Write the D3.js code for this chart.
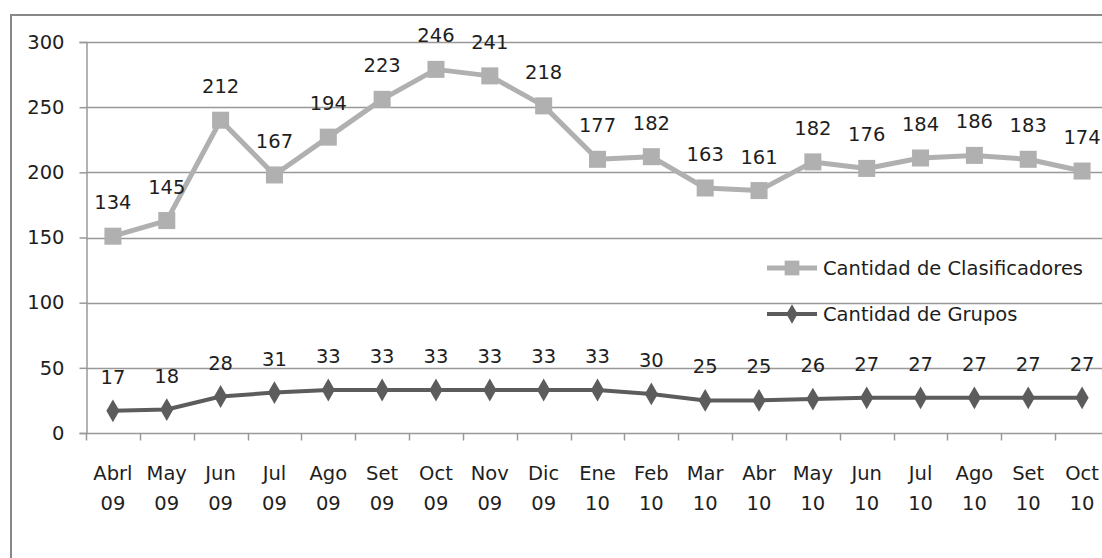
<!DOCTYPE html>
<html>
<head>
<meta charset="utf-8">
<script src="https://cdn.jsdelivr.net/npm/d3@7"></script>
<style>
  body { margin: 0; background: #fff; }
  text { font-family: "DejaVu Sans", sans-serif; fill: #1e1e1e; }
</style>
</head>
<body>
<svg id="chart" width="1102" height="558"></svg>
<script>
// months shown on the x axis (two lines each)
var months = ['Abrl', 'May', 'Jun', 'Jul', 'Ago', 'Set', 'Oct', 'Nov', 'Dic', 'Ene',
              'Feb', 'Mar', 'Abr', 'May', 'Jun', 'Jul', 'Ago', 'Set', 'Oct'];
var years = ['09', '09', '09', '09', '09', '09', '09', '09', '09', '10',
             '10', '10', '10', '10', '10', '10', '10', '10', '10'];

var grupos = [17, 18, 28, 31, 33, 33, 33, 33, 33, 33, 30, 25, 25, 26, 27, 27, 27, 27, 27];
var clasificadores = [134, 145, 212, 167, 194, 223, 246, 241, 218, 177, 182, 163, 161, 182, 176, 184, 186, 183, 174];

var yTicks = [0, 50, 100, 150, 200, 250, 300];

var fontSize = 19.5;

var svg = d3.select('#chart');

var margin = {left: 86, top: 42},
    plotW = 1109 - margin.left,
    plotH = 433 - margin.top;

// stacked line chart: clasificadores sits on top of grupos
var rows = months.map(function(m, i) {
    return {i: i, grupos: grupos[i], clasificadores: clasificadores[i]};
});
var stack = d3.stack().keys(['grupos', 'clasificadores']);
var layers = stack(rows);

var x = d3.scaleBand()
    .domain(d3.range(months.length))
    .range([margin.left, margin.left + plotW]);

var y = d3.scaleLinear()
    .domain([0, 300])
    .range([margin.top + plotH, margin.top]);

// outer chart border
svg.append('rect')
    .attr('x', 11).attr('y', 15)
    .attr('width', 1120).attr('height', 580)
    .attr('fill', 'none')
    .attr('stroke', '#888')
    .attr('stroke-width', 2);

// gridlines
svg.append('g')
    .selectAll('line')
    .data(yTicks.filter(function(d) { return d > 0; }))
    .join('line')
    .attr('x1', margin.left).attr('x2', margin.left + plotW)
    .attr('y1', function(d) { return Math.round(y(d)) + 0.5; })
    .attr('y2', function(d) { return Math.round(y(d)) + 0.5; })
    .attr('stroke', '#999')
    .attr('stroke-width', 1.5);

// y axis
var yAxis = svg.append('g')
    .attr('transform', 'translate(' + (margin.left + 0.5) + ',0)')
    .call(d3.axisLeft(y).tickValues(yTicks).tickSize(7).tickPadding(15));
yAxis.select('.domain').attr('stroke', '#999').attr('stroke-width', 1.5);
yAxis.selectAll('.tick line').attr('stroke', '#999').attr('stroke-width', 1.5);
yAxis.selectAll('.tick text')
    .attr('font-size', fontSize)
    .attr('font-family', '"DejaVu Sans", sans-serif')
    .attr('fill', '#1e1e1e');

// x axis with ticks between categories
var xAxisG = svg.append('g')
    .attr('transform', 'translate(0,' + (Math.round(y(0)) + 0.5) + ')');
xAxisG.append('line')
    .attr('x1', margin.left).attr('x2', margin.left + plotW)
    .attr('stroke', '#999').attr('stroke-width', 1.5);
xAxisG.selectAll('line.tick')
    .data(d3.range(months.length + 1))
    .join('line')
    .attr('class', 'tick')
    .attr('x1', function(d) { return Math.round(margin.left + d * x.bandwidth()) + 0.5; })
    .attr('x2', function(d) { return Math.round(margin.left + d * x.bandwidth()) + 0.5; })
    .attr('y1', 0).attr('y2', 7)
    .attr('stroke', '#999').attr('stroke-width', 1.5);

var xLabels = xAxisG.selectAll('text')
    .data(months)
    .join('text')
    .attr('text-anchor', 'middle')
    .attr('font-size', fontSize)
    .attr('x', function(d, i) { return x(i) + x.bandwidth() / 2; });
xLabels.append('tspan')
    .attr('x', function(d, i) { return x(i) + x.bandwidth() / 2; })
    .attr('y', 46)
    .text(function(d) { return d; });
xLabels.append('tspan')
    .attr('x', function(d, i) { return x(i) + x.bandwidth() / 2; })
    .attr('y', 76)
    .text(function(d, i) { return years[i]; });

var cx = function(d) { return x(d.data.i) + x.bandwidth() / 2; };

var series = [
    {layer: layers[1], values: clasificadores, color: '#b0b0b0', width: 5, shape: d3.symbolSquare, size: 290},
    {layer: layers[0], values: grupos, color: '#5c5c5c', width: 4, shape: d3.symbolDiamond, size: 150}
];

series.forEach(function(s) {
    var line = d3.line()
        .x(cx)
        .y(function(d) { return y(d[1]); });

    svg.append('path')
        .datum(s.layer)
        .attr('d', line)
        .attr('fill', 'none')
        .attr('stroke', s.color)
        .attr('stroke-width', s.width)
        .attr('stroke-linejoin', 'round');

    svg.append('g')
        .selectAll('path')
        .data(s.layer)
        .join('path')
        .attr('d', d3.symbol().type(s.shape).size(s.size))
        .attr('transform', function(d) { return 'translate(' + cx(d) + ',' + y(d[1]) + ')'; })
        .attr('fill', s.color);

    svg.append('g')
        .selectAll('text')
        .data(s.layer)
        .join('text')
        .attr('text-anchor', 'middle')
        .attr('font-size', fontSize)
        .attr('x', cx)
        .attr('y', function(d) { return y(d[1]) - 27; })
        .text(function(d, i) { return s.values[i]; });
});

// legend
var legend = [
    {name: 'Cantidad de Clasificadores', s: series[0], y: 268},
    {name: 'Cantidad de Grupos', s: series[1], y: 314}
];
var lg = svg.append('g').selectAll('g')
    .data(legend)
    .join('g')
    .attr('transform', function(d) { return 'translate(767,' + d.y + ')'; });
lg.append('line')
    .attr('x1', 0).attr('x2', 50)
    .attr('stroke', function(d) { return d.s.color; })
    .attr('stroke-width', function(d) { return d.s.width; });
lg.append('path')
    .attr('transform', 'translate(25,0)')
    .attr('d', function(d) { return d3.symbol().type(d.s.shape).size(d.s.size * 0.75)(); })
    .attr('fill', function(d) { return d.s.color; });
lg.append('text')
    .attr('x', 56)
    .attr('y', 7)
    .attr('font-size', fontSize)
    .text(function(d) { return d.name; });
</script>
</body>
</html>
